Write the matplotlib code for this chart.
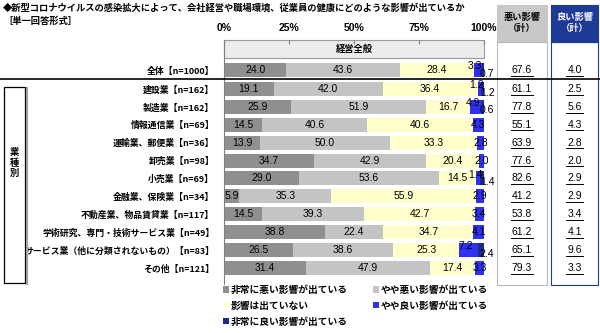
import numpy as np
import matplotlib
matplotlib.use("Agg")
import matplotlib.pyplot as plt
from matplotlib.patches import Rectangle
from matplotlib.lines import Line2D
from matplotlib.transforms import blended_transform_factory

plt.rcParams['font.family'] = ['Noto Sans CJK JP', 'DejaVu Sans']

categories = ["全体【n=1000】", "建設業【n=162】", "製造業【n=162】", "情報通信業【n=69】",
              "運輸業、郵便業【n=36】", "卸売業【n=98】", "小売業【n=69】", "金融業、保険業【n=34】",
              "不動産業、物品賃貸業【n=117】", "学術研究、専門・技術サービス業【n=49】",
              "サービス業（他に分類されないもの）【n=83】", "その他【n=121】"]

very_bad = [24.0, 19.1, 25.9, 14.5, 13.9, 34.7, 29.0, 5.9, 14.5, 38.8, 26.5, 31.4]
bad = [43.6, 42.0, 51.9, 40.6, 50.0, 42.9, 53.6, 35.3, 39.3, 22.4, 38.6, 47.9]
no_effect = [28.4, 36.4, 16.7, 40.6, 33.3, 20.4, 14.5, 55.9, 42.7, 34.7, 25.3, 17.4]
good = [3.3, 1.2, 4.9, 4.3, 2.8, 2.0, 1.4, 2.9, 3.4, 4.1, 7.2, 3.3]
very_good = [0.7, 1.2, 0.6, 0.0, 0.0, 0.0, 1.4, 0.0, 0.0, 0.0, 2.4, 0.0]

bad_total = [67.6, 61.1, 77.8, 55.1, 63.9, 77.6, 82.6, 41.2, 53.8, 61.2, 65.1, 79.3]
good_total = [4.0, 2.5, 5.6, 4.3, 2.8, 2.0, 2.9, 2.9, 3.4, 4.1, 9.6, 3.3]

series_names = ["非常に悪い影響が出ている", "やや悪い影響が出ている", "影響は出ていない",
                "やや良い影響が出ている", "非常に良い影響が出ている"]
colors = ["#8f8f8f", "#c4c4c4", "#ffffcc", "#3030f0", "#1c2a8c"]
navy = "#1c3a96"

W, H = 600, 333


def fx(p):
    return p / W


def fy(p):
    return 1 - p / H


fig = plt.figure(figsize=(6, 3.33), dpi=100)
ax = fig.add_axes([fx(224), fy(284), fx(484) - fx(224), fy(40) - fy(284)])

pos = np.r_[0, np.arange(len(categories) - 1) + 1.06]
ax.set_ylim(11.96, -1.68)
ax.set_xlim(0, 100)

data = [very_bad, bad, no_effect, good, very_good]
left = np.zeros(len(categories))
bars = []
for vals, col, name in zip(data, colors, series_names):
    vals = np.array(vals)
    b = ax.barh(pos, vals, left=left, height=0.78, color=col, edgecolor='none', label=name)
    bars.append(b)
    left = left + vals

# segment value labels
left = np.zeros(len(categories))
for k, vals in enumerate(data):
    for i, v in enumerate(vals):
        if v <= 0:
            continue
        xc = left[i] + v / 2
        yc = pos[i]
        if k == 3 and very_good[i] > 0:
            yc -= 0.22
            xc -= 1.0
        if k == 4:
            xc = 101.2
            yc += 0.2
        ax.text(xc, yc, f"{v:.1f}", ha='center', va='center', fontsize=7.5,
                family='Liberation Sans', color='black', clip_on=False)
    left = left + np.array(vals)

# header row
ax.add_patch(Rectangle((0, -1.68), 100, 1.01, fc='#ececec', ec='#9a9a9a', lw=0.8,
                       clip_on=False, zorder=0))
ax.text(50, -1.17, "経営全般", ha='center', va='center', fontsize=6.7, fontweight='bold')

ax.xaxis.tick_top()
ax.set_xticks([0, 25, 50, 75, 100])
ax.set_xticklabels(["0%", "25%", "50%", "75%", "100%"], fontsize=7.5, fontweight='bold',
                   family='Liberation Sans')
ax.tick_params(axis='x', direction='in', length=3, color='#808080', pad=5)
ax.set_yticks(pos)
ax.set_yticklabels(categories, fontsize=6.4, fontweight='bold')
ax.tick_params(axis='y', length=0, pad=7)
for s in ['top', 'right', 'bottom']:
    ax.spines[s].set_visible(False)
ax.spines['left'].set_color('#808080')
ax.spines['left'].set_linewidth(0.8)

# title
fig.text(fx(3), fy(8), "◆新型コロナウイルスの感染拡大によって、会社経営や職場環境、従業員の健康にどのような影響が出ているか",
         ha='left', va='center', fontsize=6.7, fontweight='bold')
fig.text(fx(3), fy(21), "［単一回答形式］", ha='left', va='center', fontsize=6.7, fontweight='bold')

# separator under the total row
fig.add_artist(Line2D([0, 1], [fy(79), fy(79)], transform=fig.transFigure, color='black', lw=1.2))

# industry bracket
fig.add_artist(Line2D([fx(26.5), fx(26.5)], [fy(284), fy(88)], transform=fig.transFigure,
                      color='#a0a0a0', lw=1.5))
fig.add_artist(Rectangle((fx(4), fy(283)), fx(25) - fx(4), fy(87) - fy(283),
                         transform=fig.transFigure, fill=False, ec='black', lw=0.9))
fig.text(fx(14.5), fy(163), "業\n種\n別", ha='center', va='center', fontsize=6.7,
         fontweight='bold', linespacing=1.15)

# totals table on the right
cols = [(497, 547, '#c8c8c8', '#b8b8b8', 'black', "悪い影響\n（計）", bad_total),
        (551, 598, navy, navy, 'white', "良い影響\n（計）", good_total)]
tr = blended_transform_factory(fig.transFigure, ax.transData)
value_texts = []
for x0, x1, hc, bc, tc, title, vals in cols:
    fig.add_artist(Rectangle((fx(x0), fy(42)), fx(x1) - fx(x0), fy(5) - fy(42),
                             transform=fig.transFigure, fc=hc, ec=hc, lw=0.8))
    fig.add_artist(Rectangle((fx(x0), fy(285)), fx(x1) - fx(x0), fy(42) - fy(285),
                             transform=fig.transFigure, fill=False, ec=bc, lw=0.8))
    fig.text(fx((x0 + x1) / 2), fy(23), title, ha='center', va='center', fontsize=6.7,
             fontweight='bold', color=tc, linespacing=1.2)
    for p, v in zip(pos, vals):
        t = ax.text(fx((x0 + x1) / 2), p, f"{v:.1f}", transform=tr, ha='center', va='center',
                    fontsize=7.5, family='Liberation Sans', clip_on=False)
        value_texts.append((t, p))

# legend
order = [0, 2, 4, 1, 3]
fig.legend([bars[i] for i in order], [series_names[i] for i in order],
           loc='upper left', bbox_to_anchor=(fx(219), fy(281)), ncol=2, frameon=False,
           prop={'size': 7, 'weight': 'bold'}, handlelength=0.6, handleheight=0.6,
           handletextpad=0.2, columnspacing=2.6, labelspacing=0.6, borderaxespad=0)

# underline the totals
fig.canvas.draw()
inv = fig.transFigure.inverted()
for t, p in value_texts:
    bb = t.get_window_extent()
    (xa, ya), (xb, yb) = inv.transform([[bb.x0, bb.y0], [bb.x1, bb.y1]])
    fig.add_artist(Line2D([xa - 0.002, xb + 0.002], [ya - 0.002, ya - 0.002],
                          transform=fig.transFigure, color='black', lw=0.7))

fig.savefig("out.png", dpi=100)
